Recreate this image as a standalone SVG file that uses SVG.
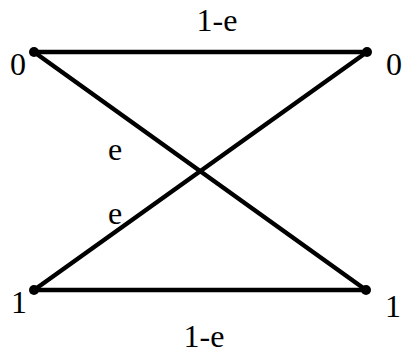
<svg xmlns="http://www.w3.org/2000/svg" width="404" height="356" viewBox="0 0 404 356">
<style>
.e{stroke:#000;stroke-width:4.5;fill:none;stroke-linecap:round}
.d{fill:#000}
text{font-family:"Liberation Serif","Times New Roman",serif;font-size:32px;fill:#000;text-anchor:middle}
</style>
<rect width="404" height="356" fill="#fff"/>
<g id="connectors">
<line class="e" x1="34" y1="52" x2="367" y2="52"/>
<line class="e" x1="34" y1="290" x2="366" y2="290"/>
<line class="e" x1="34" y1="52" x2="366" y2="290"/>
<line class="e" x1="367" y1="52" x2="34" y2="290"/>
<text x="217" y="31">1-e</text>
<text x="204" y="347">1-e</text>
<text x="115" y="160">e</text>
<text x="115" y="224">e</text>
</g>
<g id="in0"><circle class="d" cx="34" cy="52" r="5"/><text x="18" y="75">0</text></g>
<g id="out0"><circle class="d" cx="367" cy="52" r="5"/><text x="394" y="75">0</text></g>
<g id="in1"><circle class="d" cx="34" cy="290" r="5"/><text x="19" y="313">1</text></g>
<g id="out1"><circle class="d" cx="366" cy="290" r="5"/><text x="393" y="317">1</text></g>
</svg>
